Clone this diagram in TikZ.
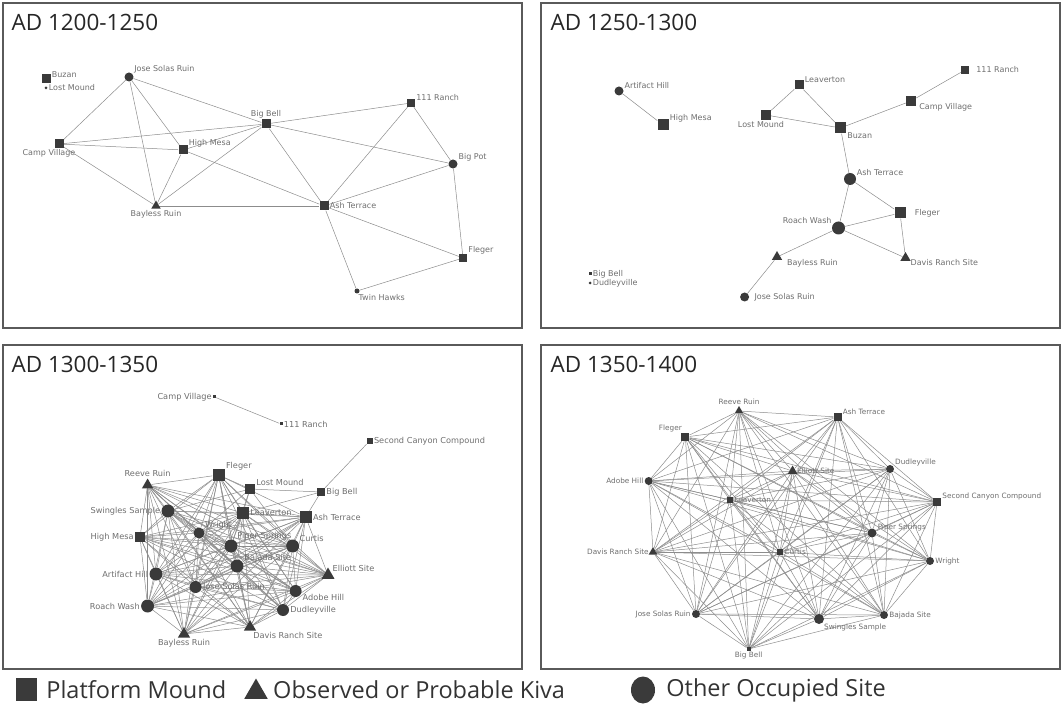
\documentclass[tikz,border=0pt]{standalone}
\usepackage{fontspec}
\setmainfont{Open Sans}
\newfontfamily\labelface{DejaVu Sans}
\usepackage{tikz}
\usetikzlibrary{shapes.geometric}
\usetikzlibrary{positioning}
\usetikzlibrary{backgrounds}

\definecolor{nodegray}{HTML}{3A3A3A}
\definecolor{linkgray}{HTML}{8C8C8C}
\definecolor{labgray}{HTML}{6E6E6E}
\definecolor{framegray}{HTML}{5A5A5A}

\newcommand\sitefont{\labelface\fontsize{8}{9}\selectfont}
\newcommand\sitefontbig{\labelface\fontsize{8.2}{9}\selectfont}
\newcommand\sitefontsmall{\labelface\fontsize{7.3}{8}\selectfont}

\tikzset{
    mound/.style={rectangle, fill=nodegray, inner sep=0pt, minimum size=#1},
    mound/.default=9pt,
    kiva/.style={regular polygon, regular polygon sides=3, fill=nodegray, inner sep=0pt, minimum size=#1},
    kiva/.default=11pt,
    site/.style={circle, fill=nodegray, inner sep=0pt, minimum size=#1},
    site/.default=9pt,
    lab/.style={text=labgray, font=\sitefont, inner sep=1pt},
    labbig/.style={text=labgray, font=\sitefontbig, inner sep=1pt},
    labsmall/.style={text=labgray, font=\sitefontsmall, inner sep=1pt},
    link/.style={draw=linkgray, line width=0.5pt},
    panel/.style={draw=framegray, line width=1.6pt},
    period/.style={anchor=base west, text=black!85, font=\fontsize{22.5}{24}\selectfont},
    keytext/.style={text=black!80, font=\fontsize{23.5}{25}\selectfont, inner sep=0pt},
}

\begin{document}
\begin{tikzpicture}[x=1pt, y=-1pt]
\useasboundingbox (0,0) rectangle (1063,708);

% frames and titles
\draw[panel] (3,3) rectangle (522,328);
\draw[panel] (541,3) rectangle (1060,328);
\draw[panel] (3,345) rectangle (522,669);
\draw[panel] (541,345) rectangle (1060,669);
\node[period] (t1) at (8,31) {AD 1200-1250};
\node[period] (t2) at (547,31) {AD 1250-1300};
\node[period] (t3) at (8,373) {AD 1300-1350};
\node[period] (t4) at (547,373) {AD 1350-1400};

% AD 1200-1250
\node[mound, label={[lab]5:Buzan}] (buzan1) at (46,79) {};
\node[site=3pt, label={[lab]0:Lost Mound}] (lost1) at (46,88) {};
\node[site, label={[lab]30:Jose Solas Ruin}] (jose1) at (129,77) {};
\node[mound, label={[lab]90:Big Bell}] (bigbell1) at (266,124) {};
\node[mound=8pt, label={[lab]10:111 Ranch}] (ranch1) at (411,103) {};
\node[mound, label={[lab, xshift=-10pt]below:Camp Village}] (camp1) at (59,144) {};
\node[mound, label={[lab]20:High Mesa}] (mesa1) at (183,150) {};
\node[site, label={[lab]20:Big Pot}] (bigpot1) at (453,164) {};
\node[kiva, label={[lab]below:Bayless Ruin}] (bayless1) at (156,206) {};
\node[mound, label={[lab]0:Ash Terrace}] (ash1) at (324,206) {};
\node[mound=8pt, label={[lab]30:Fleger}] (fleger1) at (463,258) {};
\node[site=5pt, label={[lab]-80:Twin Hawks}] (hawks1) at (357,291) {};
\begin{pgfonlayer}{background}
\foreach \a/\b in {jose1/camp1, jose1/bayless1, jose1/mesa1, jose1/bigbell1,
    camp1/bigbell1, camp1/mesa1, camp1/bayless1, mesa1/bayless1, mesa1/bigbell1,
    mesa1/ash1, bayless1/bigbell1, bayless1/ash1, bigbell1/ash1, bigbell1/ranch1,
    bigbell1/bigpot1, ranch1/ash1, ranch1/bigpot1, ash1/bigpot1, ash1/fleger1,
    ash1/hawks1, bigpot1/fleger1, hawks1/fleger1}
    \draw[link] (\a) -- (\b);
\end{pgfonlayer}

% AD 1250-1300
\node[site, label={[lab]20:Artifact Hill}] (artifact2) at (619,91) {};
\node[mound=11pt, label={[lab]20:High Mesa}] (mesa2) at (663,125) {};
\node[mound, label={[lab]10:Leaverton}] (leaverton2) at (799,85) {};
\node[mound=10pt, label={[lab, xshift=-5pt]below:Lost Mound}] (lost2) at (766,115) {};
\node[mound=11pt, label={[lab]-30:Buzan}] (buzan2) at (840.5,128) {};
\node[mound=8pt, label={[lab, label distance=6pt]right:111 Ranch}] (ranch2) at (965,70) {};
\node[mound=10pt, label={[lab, label distance=2pt]-10:Camp Village}] (camp2) at (911,101) {};
\node[site=12pt, label={[lab]25:Ash Terrace}] (ash2) at (850,179) {};
\node[mound=11pt, label={[lab, label distance=8pt]right:Fleger}] (fleger2) at (900,213) {};
\node[site=13pt, label={[lab]150:Roach Wash}] (roach2) at (838.5,228) {};
\node[kiva=12pt, label={[lab, label distance=5pt]-5:Bayless Ruin}] (bayless2) at (777,257) {};
\node[kiva=12pt, label={[lab]-5:Davis Ranch Site}] (davis2) at (905.5,258) {};
\node[site, label={[lab, label distance=4pt]right:Jose Solas Ruin}] (jose2) at (744.6,297) {};
\node[mound=3pt, label={[lab]right:Big Bell}] (bigbell2) at (590,274) {};
\node[site=3pt, label={[lab]right:Dudleyville}] (dudley2) at (590,283) {};
\begin{pgfonlayer}{background}
\foreach \a/\b in {artifact2/mesa2, leaverton2/lost2, leaverton2/buzan2, lost2/buzan2,
    buzan2/camp2, camp2/ranch2, buzan2/ash2, ash2/roach2, ash2/fleger2, roach2/fleger2,
    roach2/davis2, fleger2/davis2, roach2/bayless2, bayless2/jose2}
    \draw[link] (\a) -- (\b);
\end{pgfonlayer}

% AD 1300-1350
\node[mound=3pt, label={[labbig]left:Camp Village}] (camp3) at (214.5,397) {};
\node[mound=3pt, label={[labbig]right:111 Ranch}] (ranch3) at (281,424) {};
\node[mound=6pt, label={[labbig]right:Second Canyon Compound}] (canyon3) at (369.6,441) {};
\node[kiva=13pt, label={[labbig]above:Reeve Ruin}] (reeve3) at (147.6,485) {};
\node[mound=12pt, label={[labbig]30:Fleger}] (fleger3) at (218.6,475) {};
\node[mound=10pt, label={[labbig]20:Lost Mound}] (lost3) at (250,489) {};
\node[mound=8pt, label={[labbig]right:Big Bell}] (bigbell3) at (321,492) {};
\node[site=13pt, label={[labbig]left:Swingles Sample}] (swingles3) at (168,511) {};
\node[mound=12pt, label={[labbig]right:Leaverton}] (leaverton3) at (243,513) {};
\node[mound=12pt, label={[labbig]right:Ash Terrace}] (ash3) at (305.7,517) {};
\node[mound=10pt, label={[labbig]left:High Mesa}] (mesa3) at (140,537) {};
\node[site=11pt, label={[labbig]30:Wright}] (wright3) at (199,533) {};
\node[site=13pt, label={[labbig]40:Piper Springs}] (piper3) at (231,546) {};
\node[site=13pt, label={[labbig]30:Curtis}] (curtis3) at (292.6,546) {};
\node[site=13pt, label={[labbig]20:Bajada Site}] (bajada3) at (237,566) {};
\node[site=13pt, label={[labbig]left:Artifact Hill}] (artifact3) at (156,574) {};
\node[kiva=15pt, label={[labbig]30:Elliott Site}] (elliott3) at (328,575) {};
\node[site=12pt, label={[labbig]right:Jose Solas Ruin}] (jose3) at (195.6,587) {};
\node[site=12pt, label={[labbig]-20:Adobe Hill}] (adobe3) at (295.6,591) {};
\node[site=13pt, label={[labbig]left:Roach Wash}] (roach3) at (147.6,606) {};
\node[site=12pt, label={[labbig]right:Dudleyville}] (dudley3) at (283,610) {};
\node[kiva=14pt, label={[labbig]-60:Davis Ranch Site}] (davis3) at (250,627) {};
\node[kiva=14pt, label={[labbig]below:Bayless Ruin}] (bayless3) at (184,634) {};
\def\clusterC{reeve3,fleger3,swingles3,leaverton3,ash3,mesa3,wright3,piper3,curtis3,
    bajada3,artifact3,elliott3,jose3,adobe3,roach3,dudley3,davis3,bayless3}
\begin{pgfonlayer}{background}
\foreach \a [count=\i] in \clusterC {
    \foreach \b [count=\j] in \clusterC {
        \ifnum\j>\i \draw[link] (\a) -- (\b); \fi
    }
}
\foreach \a/\b in {camp3/ranch3, canyon3/bigbell3, bigbell3/lost3, bigbell3/ash3,
    bigbell3/leaverton3, lost3/fleger3, lost3/leaverton3, lost3/wright3, lost3/piper3,
    lost3/curtis3, lost3/swingles3}
    \draw[link] (\a) -- (\b);
\end{pgfonlayer}

% AD 1350-1400
\node[kiva=10pt, label={[labsmall]above:Reeve Ruin}] (reeve4) at (739,411) {};
\node[mound=8pt, label={[labsmall]20:Ash Terrace}] (ash4) at (837.5,417) {};
\node[mound=8pt, label={[labsmall]120:Fleger}] (fleger4) at (685.4,437) {};
\node[kiva=11pt, label={[labsmall]right:Elliott Site}] (elliott4) at (792.6,471) {};
\node[site=8pt, label={[labsmall]20:Dudleyville}] (dudley4) at (890,469) {};
\node[site=8pt, label={[labsmall]left:Adobe Hill}] (adobe4) at (648.7,481) {};
\node[mound=8pt, label={[labsmall]15:Second Canyon Compound}] (canyon4) at (937,502) {};
\node[mound=6pt, label={[labsmall]right:Leaverton}] (leaverton4) at (730,500) {};
\node[site=9pt, label={[labsmall]15:Piper Springs}] (piper4) at (872,533) {};
\node[kiva=10pt, label={[labsmall]left:Davis Ranch Site}] (davis4) at (653,552) {};
\node[mound=6pt, label={[labsmall]right:Curtis}] (curtis4) at (780,552) {};
\node[site=8pt, label={[labsmall]right:Wright}] (wright4) at (930,561) {};
\node[site=8pt, label={[labsmall]left:Jose Solas Ruin}] (jose4) at (696,614) {};
\node[site=10pt, label={[labsmall]-40:Swingles Sample}] (swingles4) at (819,619) {};
\node[site=8pt, label={[labsmall]right:Bajada Site}] (bajada4) at (884,615) {};
\node[mound=4pt, label={[labsmall]below:Big Bell}] (bigbell4) at (748.7,649) {};
\def\clusterD{reeve4,ash4,fleger4,elliott4,dudley4,adobe4,canyon4,leaverton4,piper4,
    davis4,curtis4,wright4,jose4,swingles4,bajada4,bigbell4}
\begin{pgfonlayer}{background}
\foreach \a [count=\i] in \clusterD {
    \foreach \b [count=\j] in \clusterD {
        \ifnum\j>\i \draw[link] (\a) -- (\b); \fi
    }
}
\end{pgfonlayer}

% legend
\node[mound, minimum width=21pt, minimum height=23pt] (keymound) at (26.5,689.5) {};
\node[keytext, right=9pt of keymound] (keymoundtext) {Platform Mound};
\node[kiva=27pt] (keykiva) at (256,692) {};
\node[keytext, right=9pt of keykiva.east |- keymoundtext] (keykivatext) {Observed or Probable Kiva};
\node[ellipse, fill=nodegray, inner sep=0pt, minimum width=24pt, minimum height=27pt] (keysite) at (643,690) {};
\node[keytext, right=11pt of keysite] (keysitetext) {Other Occupied Site};
\end{tikzpicture}
\end{document}
